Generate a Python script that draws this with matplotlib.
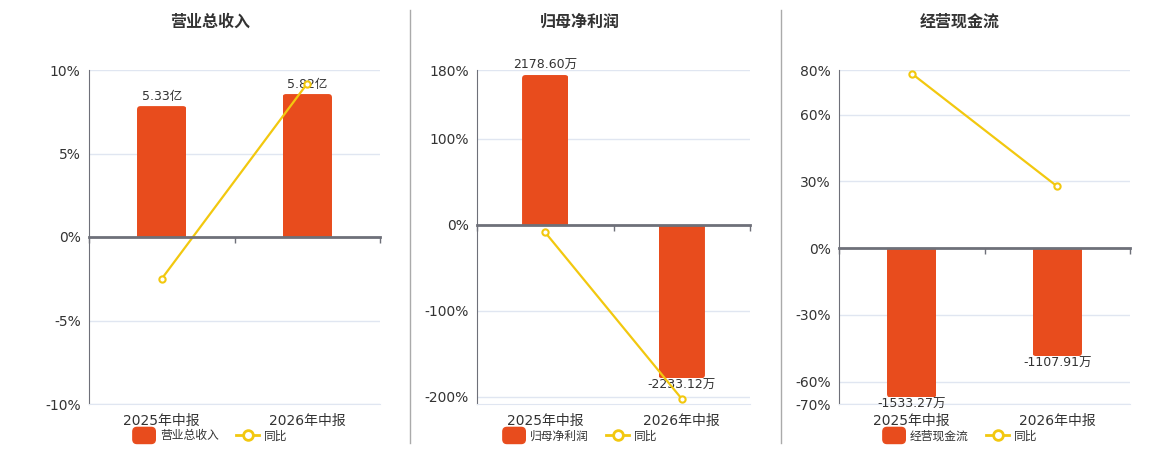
import numpy as np
import matplotlib
matplotlib.use('Agg')
import matplotlib.pyplot as plt
from matplotlib.patches import FancyBboxPatch, Patch
from matplotlib.lines import Line2D
from matplotlib.legend_handler import HandlerPatch

plt.rcParams['font.family'] = ['DejaVu Sans', 'Noto Sans CJK SC']

categories = ['2025年中报', '2026年中报']

revenue = [5.33, 5.82]          # 亿
revenue_yoy = [-2.5, 9.19]      # %
profit = [2178.60, -2233.12]    # 万
profit_yoy = [-9.0, -202.5]
cashflow = [-1533.27, -1107.91]  # 万
cashflow_yoy = [78.4, 27.7]

BAR_COLOR = '#e84c1d'
LINE_COLOR = '#f2c80f'
GRID_COLOR = '#e0e6f1'
AXIS_COLOR = '#6e7079'
TEXT_COLOR = '#333333'

W, H = 1160, 450
RADIUS_PX = 3.5

panels = [
    dict(title='营业总收入', values=revenue, yoy=revenue_yoy, unit='亿',
         box=(89, 70, 380, 404), ylim=(-10, 10), ticks=[-10, -5, 0, 5, 10],
         scale=0.68, center=210),
    dict(title='归母净利润', values=profit, yoy=profit_yoy, unit='万',
         box=(477, 70, 750, 404), ylim=(-208.5, 180), ticks=[-200, -100, 0, 100, 180],
         scale=12.51, center=580),
    dict(title='经营现金流', values=cashflow, yoy=cashflow_yoy, unit='万',
         box=(839, 70, 1130, 404), ylim=(-70, 80), ticks=[-70, -60, -30, 0, 30, 60, 80],
         scale=22.86, center=960),
]

fig = plt.figure(figsize=(W / 100, H / 100), dpi=100)


def px_box(l, t, r, b):
    return [l / W, 1 - b / H, (r - l) / W, (b - t) / H]


def round_legend_patch(legend, orig_handle, xdescent, ydescent, width, height, fontsize):
    return FancyBboxPatch((-xdescent, -ydescent - 2), width, height + 4,
                          boxstyle='round,pad=0,rounding_size=3')


x = np.arange(len(categories))

for p in panels:
    l, t, r, b = p['box']
    rect = px_box(l, t, r, b)
    ax = fig.add_axes(rect)
    ax.set_xlim(-0.5, len(categories) - 0.5)
    ax.set_ylim(*p['ylim'])
    ax.set_yticks(p['ticks'])
    ax.set_yticklabels([f'{tk}%' for tk in p['ticks']])
    ax.set_xticks(x)
    ax.set_xticklabels(categories)
    ax.tick_params(axis='x', length=0, pad=7, labelsize=10, colors=TEXT_COLOR)
    ax.tick_params(axis='y', length=0, pad=6, labelsize=10, colors=TEXT_COLOR)
    ax.grid(axis='y', color=GRID_COLOR, lw=1)
    ax.set_axisbelow(True)
    for s in ['top', 'right']:
        ax.spines[s].set_visible(False)
    ax.spines['bottom'].set_color(GRID_COLOR)
    ax.spines['left'].set_color(AXIS_COLOR)

    # bars on a hidden axis of their own
    axb = fig.add_axes(rect)
    axb.set_xlim(-0.5, len(categories) - 0.5)
    lo, hi = p['ylim']
    axb.set_ylim(lo * p['scale'], hi * p['scale'])
    bars = axb.bar(x, p['values'], width=0.34, color=BAR_COLOR)
    x_per_px = len(categories) / (r - l)
    y_per_px = (hi - lo) * p['scale'] / (b - t)
    rx = RADIUS_PX * x_per_px
    ry = RADIUS_PX * y_per_px
    for bar, v in zip(bars, p['values']):
        # rounded end away from zero, clipped so the zero end stays square
        sign = 1 if v >= 0 else -1
        bx, bw = bar.get_x(), bar.get_width()
        y0 = -sign * ry
        rp = FancyBboxPatch((bx, min(y0, v)), bw, abs(v - y0),
                            boxstyle=f'round,pad=0,rounding_size={rx}',
                            mutation_aspect=y_per_px / x_per_px,
                            fc=BAR_COLOR, ec='none')
        axb.add_patch(rp)
        rp.set_clip_path(bar)
        bar.set_alpha(0)
        if v >= 0:
            axb.annotate(f'{v:.2f}{p["unit"]}', (bx + bw / 2, v),
                         xytext=(0, 2.5), textcoords='offset points',
                         ha='center', va='bottom', fontsize=9, color=TEXT_COLOR)
        else:
            axb.annotate(f'{v:.2f}{p["unit"]}', (bx + bw / 2, v),
                         xytext=(0, -0.5), textcoords='offset points',
                         ha='center', va='top', fontsize=9, color=TEXT_COLOR)
    axb.axis('off')

    # yoy line on top, plus the zero axis line
    axl = fig.add_axes(rect)
    axl.patch.set_visible(False)
    axl.set_xlim(-0.5, len(categories) - 0.5)
    axl.set_ylim(*p['ylim'])
    axl.plot(x, p['yoy'], color=LINE_COLOR, lw=1.6, marker='o', ms=4.5,
             mfc='white', mec=LINE_COLOR, mew=1.5)
    for s in ['top', 'right', 'left']:
        axl.spines[s].set_visible(False)
    axl.spines['bottom'].set_position(('data', 0))
    axl.spines['bottom'].set_color(AXIS_COLOR)
    axl.spines['bottom'].set_linewidth(2)
    axl.set_xticks(np.arange(len(categories) + 1) - 0.5)
    axl.set_xticklabels([])
    axl.tick_params(axis='x', direction='out', length=4, width=1, color=AXIS_COLOR)
    axl.set_yticks([])

    fig.text(p['center'] / W, 1 - 22 / H, p['title'], ha='center', va='center',
             fontsize=11.5, fontweight='bold', color=TEXT_COLOR)

    line_handle = Line2D([], [], color=LINE_COLOR, lw=2, marker='o', ms=7,
                         mfc='white', mec=LINE_COLOR, mew=2)
    bar_handle = Patch(color=BAR_COLOR)
    fig.legend(handles=[bar_handle, line_handle], labels=[p['title'], '同比'],
               loc='center', bbox_to_anchor=(p['center'] / W, 1 - 436 / H),
               ncol=2, frameon=False, fontsize=8.5, handlelength=1.9,
               handleheight=1.0, handletextpad=0.4, columnspacing=1.5,
               labelcolor=TEXT_COLOR,
               handler_map={Patch: HandlerPatch(patch_func=round_legend_patch)})

# panel dividers
for xd in [410, 781]:
    fig.add_artist(Line2D([xd / W, xd / W], [1 - 443 / H, 1 - 10 / H],
                          color='#aaaaaa', lw=1))

fig.savefig('out.png', dpi=100)
